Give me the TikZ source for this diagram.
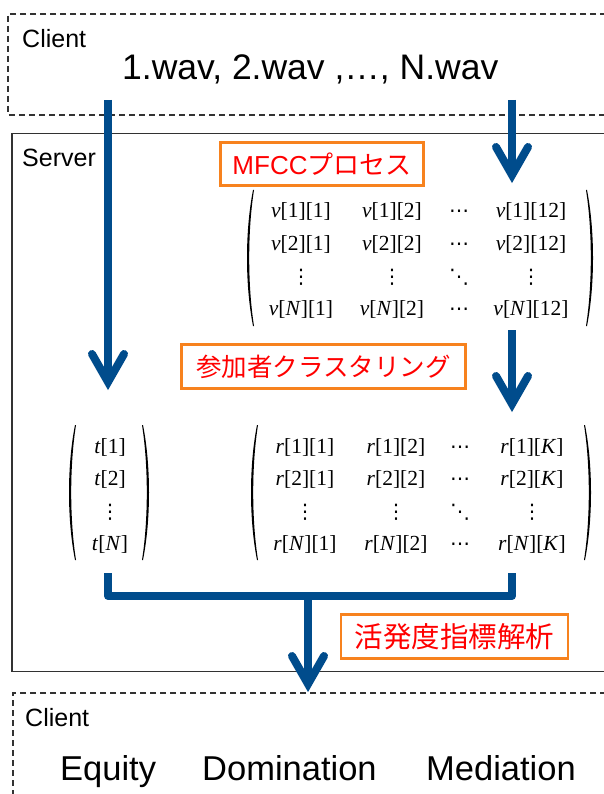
\documentclass[tikz,border=0pt]{standalone}
\usepackage{fontspec}
\setmainfont{Liberation Sans}
\newfontfamily\jp{Noto Sans CJK JP}
\newfontfamily\tms{Liberation Serif}
\newfontfamily\djv{DejaVu Sans}
\definecolor{flowblue}{RGB}{0,76,140}
\definecolor{tagorange}{RGB}{247,130,30}
\definecolor{boxgray}{RGB}{50,50,50}
\newcommand\lpar[3]{\fill[black] (#1+6,#2) .. controls (#1-2,{#2+0.3*(#3-#2)}) and (#1-2,{#3-0.3*(#3-#2)}) .. (#1+6,#3) -- (#1+7,#3) .. controls (#1+0.6,{#3-0.3*(#3-#2)}) and (#1+0.6,{#2+0.3*(#3-#2)}) .. (#1+7,#2) -- cycle;}
\newcommand\rpar[3]{\fill[black] (#1-6,#2) .. controls (#1+2,{#2+0.3*(#3-#2)}) and (#1+2,{#3-0.3*(#3-#2)}) .. (#1-6,#3) -- (#1-7,#3) .. controls (#1-0.6,{#3-0.3*(#3-#2)}) and (#1-0.6,{#2+0.3*(#3-#2)}) .. (#1-7,#2) -- cycle;}
\newcommand\chev[1]{\draw[flow,line cap=round,line join=miter] ([shift={(-16,-28)}]#1) -- (#1) -- ([shift={(16,-28)}]#1);}
\begin{document}
\begin{tikzpicture}[x=1pt,y=-1pt,
  dashbox/.style={draw=boxgray,line width=1.1pt,dash pattern=on 6pt off 4pt},
  srvbox/.style={draw=boxgray,line width=1.4pt},
  flow/.style={draw=flowblue,line width=8pt},
  tagbox/.style={draw=tagorange,line width=2.6pt,text=red,inner sep=0pt,align=center},
  lbl/.style={font=\fontsize{25}{30}\selectfont,anchor=base west,inner sep=0pt},
  big/.style={font=\fontsize{34.5}{40}\selectfont,anchor=base west,inner sep=0pt},
  ent/.style={font=\tms\fontsize{21.5}{25}\selectfont,anchor=base,inner sep=0pt},
  dts/.style={font=\djv\fontsize{20}{24}\selectfont,anchor=base,inner sep=0pt}]
\useasboundingbox[fill=white] (0,0) rectangle (604,794);

% boxes
\draw[dashbox] (606,14) -- (8,14) -- (8,115) -- (606,115);
\draw[srvbox] (606,133.5) -- (12,133.5) -- (12,671.5) -- (606,671.5);
\draw[dashbox] (606,693) -- (13,693) -- (13,800);

% labels
\node[lbl] (client1) at (22,48) {Client};
\node[big,font=\fontsize{35.5}{40}\selectfont] (wav) at (122,80) {1.wav, 2.wav ,…, N.wav};
\node[lbl] (server) at (22,167) {Server};
\node[lbl] (client2) at (25,726) {Client};
\node[big] (equity) at (60,780) {Equity};
\node[big] (domin) at (202,780) {Domination};
\node[big] (medi) at (426,780) {Mediation};

% process tags
\node[tagbox,minimum width=203pt,minimum height=43pt] (mfcc) at (322,164)
  {{\fontsize{26}{30}\selectfont MFCC}{\jp\fontsize{26}{30}\selectfont プロセス}};
\node[tagbox,minimum width=284pt,minimum height=44pt,font=\jp\fontsize{25.5}{30}\selectfont] (clus) at (323.5,366.5) {参加者クラスタリング};
\node[tagbox,minimum width=227pt,minimum height=44pt,font=\jp\fontsize{28.5}{32}\selectfont] (anal) at (454.5,636.5) {活発度指標解析};

% v matrix
\lpar{247}{190}{326} \rpar{593}{190}{326}
\node[ent] (v11) at (301,218) {\textit{v}[1][1]};
\node[ent] (v12) at (392,218) {\textit{v}[1][2]};
\node[dts] (v13) at (459,218) {⋯};
\node[ent] (v14) at (531,218) {\textit{v}[1][12]};
\node[ent] (v21) at (301,250.5) {\textit{v}[2][1]};
\node[ent] (v22) at (392,250.5) {\textit{v}[2][2]};
\node[dts] (v23) at (459,250.5) {⋯};
\node[ent] (v24) at (531,250.5) {\textit{v}[2][12]};
\node[dts] (v31) at (301,283) {⋮};
\node[dts] (v32) at (392,283) {⋮};
\node[dts] (v33) at (459,283) {⋱};
\node[dts] (v34) at (531,283) {⋮};
\node[ent] (v41) at (301,315.5) {\textit{v}[\textit{N}][1]};
\node[ent] (v42) at (392,315.5) {\textit{v}[\textit{N}][2]};
\node[dts] (v43) at (459,315.5) {⋯};
\node[ent] (v44) at (531,315.5) {\textit{v}[\textit{N}][12]};

% t matrix
\lpar{69}{425}{560} \rpar{149}{425}{560}
\node[ent] (t1) at (110,453) {\textit{t}[1]};
\node[ent] (t2) at (110,485.5) {\textit{t}[2]};
\node[dts] (t3) at (110,518) {⋮};
\node[ent] (t4) at (110,550.5) {\textit{t}[\textit{N}]};

% r matrix
\lpar{251}{425}{560} \rpar{591}{425}{560}
\node[ent] (r11) at (305,453) {\textit{r}[1][1]};
\node[ent] (r12) at (396,453) {\textit{r}[1][2]};
\node[dts] (r13) at (460,453) {⋯};
\node[ent] (r14) at (532,453) {\textit{r}[1][\textit{K}]};
\node[ent] (r21) at (305,485.5) {\textit{r}[2][1]};
\node[ent] (r22) at (396,485.5) {\textit{r}[2][2]};
\node[dts] (r23) at (460,485.5) {⋯};
\node[ent] (r24) at (532,485.5) {\textit{r}[2][\textit{K}]};
\node[dts] (r31) at (305,518) {⋮};
\node[dts] (r32) at (396,518) {⋮};
\node[dts] (r33) at (460,518) {⋱};
\node[dts] (r34) at (532,518) {⋮};
\node[ent] (r41) at (305,550.5) {\textit{r}[\textit{N}][1]};
\node[ent] (r42) at (396,550.5) {\textit{r}[\textit{N}][2]};
\node[dts] (r43) at (460,550.5) {⋯};
\node[ent] (r44) at (532,550.5) {\textit{r}[\textit{N}][\textit{K}]};

% flow arrows
\coordinate (aLs) at (108,100);  \coordinate (aLe) at (108,382);
\coordinate (aRs) at (512,100);  \coordinate (aRe) at (512,175);
\coordinate (bRs) at (512,330);  \coordinate (bRe) at (512,404);
\coordinate (jL) at (108,573);   \coordinate (jR) at (512,573);
\coordinate (jM) at (308,596);   \coordinate (jE) at (308,684);
\draw[flow] (aLs) -- (aLe); \chev{aLe}
\draw[flow] (aRs) -- (aRe); \chev{aRe}
\draw[flow] (bRs) -- (bRe); \chev{bRe}
\draw[flow,line join=round] (jL) |- (jM) -| (jR);
\draw[flow] (jM) -- (jE); \chev{jE}
\end{tikzpicture}
\end{document}
